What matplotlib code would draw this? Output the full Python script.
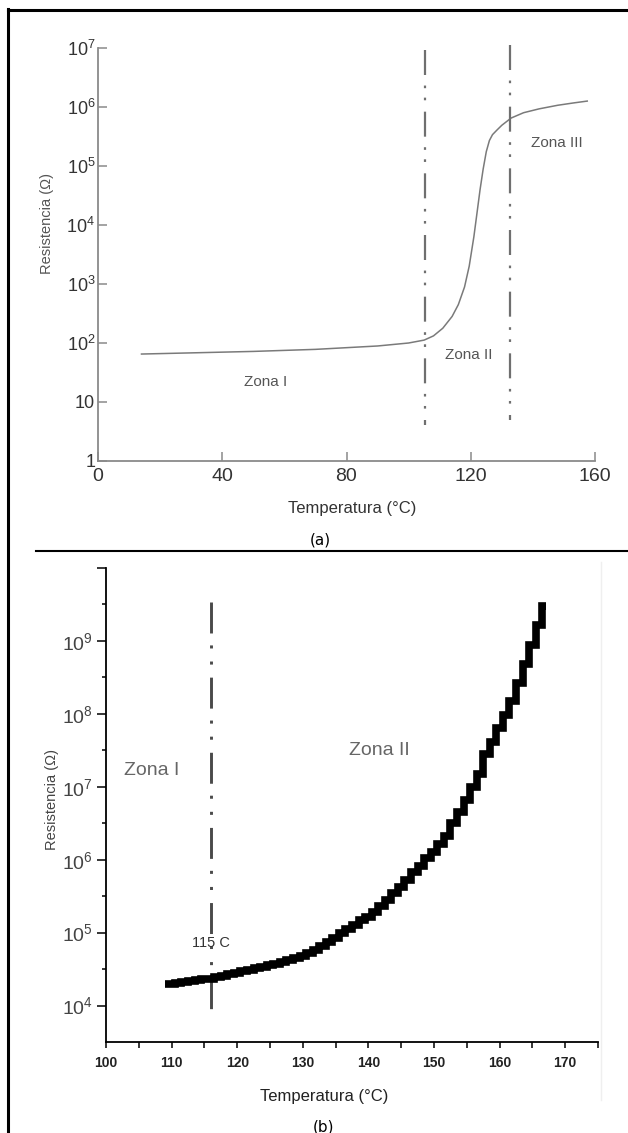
import matplotlib
matplotlib.use('Agg')
import matplotlib.pyplot as plt
import matplotlib.ticker as mticker
from matplotlib.lines import Line2D

plt.rcParams['font.family'] = ['Liberation Sans', 'DejaVu Sans']
plt.rcParams['mathtext.fontset'] = 'custom'
plt.rcParams['mathtext.rm'] = 'Liberation Sans'
plt.rcParams['mathtext.it'] = 'Liberation Sans:italic'
plt.rcParams['mathtext.bf'] = 'Liberation Sans:bold'
plt.rcParams['lines.scale_dashes'] = False

# (a) resistencia frente a temperatura, escala 0-160 C
temp_a = [14, 30, 50, 70, 90, 100, 105, 108, 111, 114, 116, 118, 119.5, 121,
          122, 123, 124, 125, 126, 127, 128.5, 130, 133, 137, 142, 148, 153, 157.5]
res_a = [65, 68, 72, 78, 89, 100, 112, 132, 178, 282, 447, 891, 2000, 6300,
         15800, 39800, 89000, 175000, 270000, 340000, 410000, 490000, 650000,
         800000, 930000, 1.07e6, 1.17e6, 1.26e6]
limites_a = [105.2, 132.6]
limites_a_inf = [4.1, 4.9]
limites_a_sup = [9.3e6, 1.12e7]
ticks_x_a = [0, 40, 80, 120, 160]
ticks_y_a = [1, 10, 1e2, 1e3, 1e4, 1e5, 1e6, 1e7]
etiq_y_a = ['1', '10', '$10^{2}$', '$10^{3}$', '$10^{4}$', '$10^{5}$',
            '$10^{6}$', '$10^{7}$']

# (b) resistencia frente a temperatura, escala 100-175 C
temp_b = list(range(109, 168))
res_b = [19500, 20000, 20400, 20900, 21400, 22400, 22900, 23400, 24500, 25700,
         26900, 28200, 29500, 30900, 32400, 33900, 35500, 37200, 39800, 41700,
         44700, 47900, 52500, 57500, 64600, 74100, 85100, 97700, 1.12e5, 1.29e5,
         1.48e5, 1.66e5, 1.91e5, 2.29e5, 2.82e5, 3.47e5, 4.27e5, 5.25e5, 6.76e5,
         8.32e5, 1.05e6, 1.29e6, 1.62e6, 2.09e6, 3.16e6, 4.57e6, 6.61e6, 1.0e7,
         1.51e7, 2.82e7, 4.17e7, 6.31e7, 9.55e7, 1.48e8, 2.63e8, 4.79e8, 8.91e8,
         1.66e9, 3.02e9]
limite_b = 116
limite_b_inf = 7.2e3
limite_b_sup = 3.4e9
ticks_x_b = [100, 110, 120, 130, 140, 150, 160, 170]
ticks_y_b = [1e4, 1e5, 1e6, 1e7, 1e8, 1e9, 1e10]
etiq_y_b = ['$10^{4}$', '$10^{5}$', '$10^{6}$', '$10^{7}$', '$10^{8}$',
            '$10^{9}$', '']
minor_y_b = [10**4.5, 10**5.5, 10**6.5, 10**7.5, 10**8.5, 10**9.5]

W, H = 628, 1133
fig = plt.figure(figsize=(W / 100, H / 100), dpi=100)


def caja(x0, y0, x1, y1):
    # rectangulo en pixeles (origen arriba a la izquierda) -> fraccion de figura
    return [x0 / W, 1 - y1 / H, (x1 - x0) / W, (y1 - y0) / H]


# marco de la tabla
fig.add_artist(Line2D([8 / W, 8 / W], [0, 1 - 9 / H], color='black', lw=2.2))
fig.add_artist(Line2D([8 / W, 1], [1 - 10 / H, 1 - 10 / H], color='black', lw=2.2))
fig.add_artist(Line2D([36 / W, 1], [1 - 551 / H, 1 - 551 / H], color='black', lw=1.5))
fig.add_artist(Line2D([601 / W, 601 / W], [1 - 562 / H, 1 - 1100 / H],
                      color='#efefef', lw=1))

gris = '#8a8a8a'
texto = '#333333'

# ---------------- (a) ----------------
ax = fig.add_axes(caja(98, 48, 595, 461))
ax.plot(temp_a, res_a, color='#7a7a7a', lw=1.1)
for x, lo, hi in zip(limites_a, limites_a_inf, limites_a_sup):
    ax.plot([x, x], [hi, lo], color='#6f6f6f', lw=1.6, clip_on=False,
            linestyle=(0, (18, 7.6, 1.9, 6.8, 1.9, 8.2)))
ax.set_yscale('log')
ax.set_xlim(0, 160)
ax.set_ylim(1, 1e7)
ax.xaxis.set_major_locator(mticker.FixedLocator(ticks_x_a))
ax.yaxis.set_major_locator(mticker.FixedLocator(ticks_y_a))
ax.yaxis.set_major_formatter(mticker.FixedFormatter(etiq_y_a))
ax.yaxis.set_minor_locator(mticker.NullLocator())
for s in ['top', 'right']:
    ax.spines[s].set_visible(False)
for s in ['left', 'bottom']:
    ax.spines[s].set_color(gris)
    ax.spines[s].set_linewidth(1.3)
ax.tick_params(axis='both', direction='in', length=6.5, width=1.1, color=gris)
ax.tick_params(axis='x', labelsize=14, pad=5, labelcolor=texto)
ax.tick_params(axis='y', labelsize=13, pad=2, labelcolor=texto)
ax.set_xlabel('Temperatura (°C)', fontsize=12, color=texto)
ax.xaxis.label.set_va('center')
ax.xaxis.set_label_coords(0.511, -0.116)
ax.set_ylabel('Resistencia (Ω)', fontsize=10.5, color='#555555')
ax.yaxis.label.set_va('center')
ax.yaxis.set_label_coords(-0.103, 0.574)
ax.text(54, 22, 'Zona I', fontsize=11, color='#555555', ha='center', va='center')
ax.text(119.4, 63, 'Zona II', fontsize=11, color='#555555', ha='center', va='center')
ax.text(147.7, 2.5e5, 'Zona III', fontsize=11, color='#555555', ha='center', va='center')
ax.set_facecolor('none')

fig.text(320 / W, 1 - 540 / H, '(a)', fontsize=11, family='DejaVu Sans',
         ha='center', va='center', color='black')

# ---------------- (b) ----------------
bx = fig.add_axes(caja(106, 568, 598, 1042))
bx.plot([limite_b, limite_b], [limite_b_sup, limite_b_inf], color='#4a4a4a',
        lw=2.1, linestyle=(0, (22.3, 8.6, 2.2, 9.4, 2.2, 9.4)))
bx.plot(temp_b, res_b, color='black', lw=5.5, drawstyle='steps-mid',
        solid_joinstyle='miter', solid_capstyle='butt')
bx.set_yscale('log')
bx.set_xlim(100, 175)
bx.set_ylim(10**3.5, 1e10)
bx.xaxis.set_major_locator(mticker.FixedLocator(ticks_x_b))
bx.xaxis.set_minor_locator(mticker.MultipleLocator(5))
bx.yaxis.set_major_locator(mticker.FixedLocator(ticks_y_b))
bx.yaxis.set_major_formatter(mticker.FixedFormatter(etiq_y_b))
bx.yaxis.set_minor_locator(mticker.FixedLocator(minor_y_b))
bx.yaxis.set_minor_formatter(mticker.NullFormatter())
for s in ['top', 'right']:
    bx.spines[s].set_visible(False)
for s in ['left', 'bottom']:
    bx.spines[s].set_color('black')
    bx.spines[s].set_linewidth(1.3)
bx.tick_params(axis='x', which='both', direction='out', length=4, width=1.1)
bx.tick_params(axis='x', which='major', labelsize=10, pad=6, labelcolor='#222222')
bx.tick_params(axis='y', which='major', direction='out', length=6.5, width=1.1,
               labelsize=14, pad=3, labelcolor='#444444')
bx.tick_params(axis='y', which='minor', direction='out', length=3, width=1.1)
for lab in bx.get_xticklabels():
    lab.set_fontweight('bold')
bx.set_xlabel('Temperatura (°C)', fontsize=12, color='#222222')
bx.xaxis.label.set_va('center')
bx.xaxis.set_label_coords(0.443, -0.116)
bx.set_ylabel('Resistencia (Ω)', fontsize=10.5, color='#444444')
bx.yaxis.label.set_va('center')
bx.yaxis.set_label_coords(-0.110, 0.511)
bx.text(107, 1.66e7, 'Zona I', fontsize=14, color='#666666',
        ha='center', va='center')
bx.text(141.6, 3.1e7, 'Zona II', fontsize=14, color='#666666',
        ha='center', va='center')
bx.text(limite_b, 7.1e4, '115 C', fontsize=10.5, color='#333333',
        ha='center', va='center')
bx.set_facecolor('none')

fig.text(324 / W, 1 - 1127 / H, '(b)', fontsize=11, family='DejaVu Sans',
         ha='center', va='center', color='black')

fig.savefig('out.png', dpi=100)
